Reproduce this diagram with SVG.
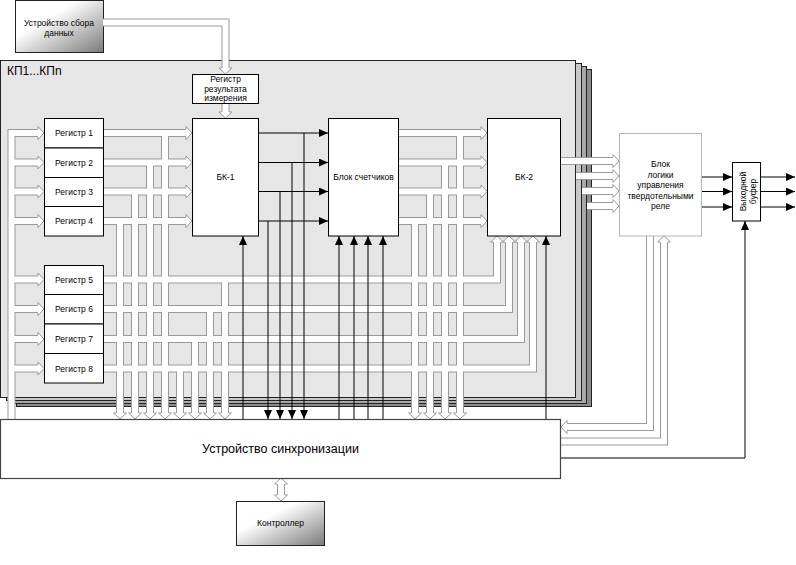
<svg xmlns="http://www.w3.org/2000/svg" xmlns:xlink="http://www.w3.org/1999/xlink" width="796" height="565" viewBox="0 0 796 565">
<style>
text { font-family: "Liberation Sans", Arial, sans-serif; fill: #000; }
.lbl { font-size: 8.5px; text-anchor: middle; }
.box { fill: #fff; stroke: #000; stroke-width: 1; }
.bo { fill: none; stroke: #9a9a9a; stroke-width: 8; }
.bi { fill: none; stroke: #fff; stroke-width: 6; }
.ha { fill: #fff; stroke: #9a9a9a; stroke-width: 1; }
.bl { fill: none; stroke: #000; stroke-width: 1; marker-end: url(#ab); }
.ln { fill: none; stroke: #000; stroke-width: 1; }
.layer { stroke: #222; stroke-width: 1; }
</style>
<defs>
<linearGradient id="gr" x1="0" y1="0" x2="1" y2="1">
<stop offset="0.35" stop-color="#ffffff"/>
<stop offset="1" stop-color="#7a7a7a"/>
</linearGradient>
<marker id="ab" markerWidth="10" markerHeight="8" refX="9" refY="4" orient="auto" markerUnits="userSpaceOnUse">
<path d="M0,0 L9,4 L0,8 z" fill="#000"/>
</marker>
<path id="ha" d="M-6,-4 L-6,-6.5 L0,0 L-6,6.5 L-6,4"/>
<path id="bus" d="M103,22.5 H225.5 V69 M225.5,103 V113
M11.5,419 V133 H39 M11.5,162.5 H39 M11.5,191.5 H39 M11.5,221 H39 M11.5,279.5 H39 M11.5,309 H39 M11.5,339 H39 M11.5,368.5 H39
M103,133 H187 M165,133 V414
M103,162.5 H187 M150,162.5 V414
M103,191.5 H187 M135,191.5 V414
M103,221 H187 M120,221 V414
M103,279.5 H497 V241 M225,279.5 V414
M103,309 H509 V241 M210,309 V414
M103,339 H521 V241 M195,339 V414
M103,368.5 H533 V241 M180,368.5 V414
M398,133 H482 M460,133 V414
M398,162.5 H482 M445,162.5 V414
M398,191.5 H482 M430,191.5 V414
M398,221 H482 M415,221 V414
M560,161 H614 M576,176 H614 M582,191 H614 M587,206 H614
M650,236 V427 H566
M561,441.5 H664 V241
M281,483 V496"/>
</defs>

<g id="kp-stack">
<rect class="layer" x="16.5" y="69.5" width="575" height="337" fill="#8c8c8c"/>
<rect class="layer" x="11.5" y="66.5" width="575" height="337" fill="#a8a8a8"/>
<rect class="layer" x="6.5" y="63.5" width="575" height="337" fill="#c8c8c8"/>
<rect class="layer" x="0.5" y="60.5" width="575" height="337" fill="#e6e6e6"/>
<text x="7" y="75" font-size="12">КП1...КПn</text>
</g>

<g id="data-device">
<rect x="15.5" y="0.5" width="88" height="52" fill="url(#gr)" stroke="#222"/>
<text class="lbl" x="59" y="26">Устройство сбора</text>
<text class="lbl" x="59" y="35.5">данных</text>
</g>

<g id="connectors">
<use xlink:href="#bus" class="bo"/>
<use xlink:href="#bus" class="bi"/>
<g class="ha">
<use xlink:href="#ha" transform="translate(225.5,74) rotate(90)"/>
<use xlink:href="#ha" transform="translate(225.5,118) rotate(90)"/>
<use xlink:href="#ha" transform="translate(44,133)"/>
<use xlink:href="#ha" transform="translate(44,162.5)"/>
<use xlink:href="#ha" transform="translate(44,191.5)"/>
<use xlink:href="#ha" transform="translate(44,221)"/>
<use xlink:href="#ha" transform="translate(44,279.5)"/>
<use xlink:href="#ha" transform="translate(44,309)"/>
<use xlink:href="#ha" transform="translate(44,339)"/>
<use xlink:href="#ha" transform="translate(44,368.5)"/>
<use xlink:href="#ha" transform="translate(192,133)"/>
<use xlink:href="#ha" transform="translate(192,162.5)"/>
<use xlink:href="#ha" transform="translate(192,191.5)"/>
<use xlink:href="#ha" transform="translate(192,221)"/>
<use xlink:href="#ha" transform="translate(487,133)"/>
<use xlink:href="#ha" transform="translate(487,162.5)"/>
<use xlink:href="#ha" transform="translate(487,191.5)"/>
<use xlink:href="#ha" transform="translate(487,221)"/>
<use xlink:href="#ha" transform="translate(120,419) rotate(90)"/>
<use xlink:href="#ha" transform="translate(135,419) rotate(90)"/>
<use xlink:href="#ha" transform="translate(150,419) rotate(90)"/>
<use xlink:href="#ha" transform="translate(165,419) rotate(90)"/>
<use xlink:href="#ha" transform="translate(180,419) rotate(90)"/>
<use xlink:href="#ha" transform="translate(195,419) rotate(90)"/>
<use xlink:href="#ha" transform="translate(210,419) rotate(90)"/>
<use xlink:href="#ha" transform="translate(225,419) rotate(90)"/>
<use xlink:href="#ha" transform="translate(415,419) rotate(90)"/>
<use xlink:href="#ha" transform="translate(430,419) rotate(90)"/>
<use xlink:href="#ha" transform="translate(445,419) rotate(90)"/>
<use xlink:href="#ha" transform="translate(460,419) rotate(90)"/>
<use xlink:href="#ha" transform="translate(497,236) rotate(-90)"/>
<use xlink:href="#ha" transform="translate(509,236) rotate(-90)"/>
<use xlink:href="#ha" transform="translate(521,236) rotate(-90)"/>
<use xlink:href="#ha" transform="translate(533,236) rotate(-90)"/>
<use xlink:href="#ha" transform="translate(619,161)"/>
<use xlink:href="#ha" transform="translate(619,176)"/>
<use xlink:href="#ha" transform="translate(619,191)"/>
<use xlink:href="#ha" transform="translate(619,206)"/>
<use xlink:href="#ha" transform="translate(561,427) rotate(180)"/>
<use xlink:href="#ha" transform="translate(664,236) rotate(-90)"/>
<use xlink:href="#ha" transform="translate(281,478) rotate(-90)"/>
<use xlink:href="#ha" transform="translate(281,501) rotate(90)"/>
</g>
<path class="bl" d="M258,133 H328"/>
<path class="bl" d="M258,162.5 H328"/>
<path class="bl" d="M258,191.5 H328"/>
<path class="bl" d="M258,221 H328"/>
<path class="bl" d="M304,133 V419"/>
<path class="bl" d="M292,162.5 V419"/>
<path class="bl" d="M280,191.5 V419"/>
<path class="bl" d="M268,221 V419"/>
<path class="bl" d="M243,419 V236"/>
<path class="bl" d="M339,419 V236"/>
<path class="bl" d="M354,419 V236"/>
<path class="bl" d="M368,419 V236"/>
<path class="bl" d="M383,419 V236"/>
<path class="bl" d="M546,419 V236"/>
<path class="bl" d="M702,177 H732"/>
<path class="bl" d="M702,191.5 H732"/>
<path class="bl" d="M702,207 H732"/>
<path class="bl" d="M760,177 H795"/>
<path class="bl" d="M760,191.5 H795"/>
<path class="bl" d="M760,207 H795"/>
<path class="bl" d="M561,458 H745 V221"/>
</g>

<g id="reg-result">
<rect class="box" x="192.5" y="74.5" width="66" height="29"/>
<text class="lbl" x="225.5" y="82">Регистр</text>
<text class="lbl" x="225.5" y="91.5">результата</text>
<text class="lbl" x="225.5" y="101">измерения</text>
</g>

<g id="reg1-4">
<rect class="box" x="44.5" y="118.5" width="59" height="29.5"/>
<rect class="box" x="44.5" y="148" width="59" height="29.5"/>
<rect class="box" x="44.5" y="177.5" width="59" height="29"/>
<rect class="box" x="44.5" y="206.5" width="59" height="29.5"/>
<text class="lbl" x="74" y="136">Регистр 1</text>
<text class="lbl" x="74" y="165.5">Регистр 2</text>
<text class="lbl" x="74" y="194.5">Регистр 3</text>
<text class="lbl" x="74" y="224">Регистр 4</text>
</g>

<g id="reg5-8">
<rect class="box" x="44.5" y="265.5" width="59" height="29"/>
<rect class="box" x="44.5" y="294.5" width="59" height="29.5"/>
<rect class="box" x="44.5" y="324" width="59" height="29.5"/>
<rect class="box" x="44.5" y="353.5" width="59" height="29.5"/>
<text class="lbl" x="74" y="282.5">Регистр 5</text>
<text class="lbl" x="74" y="312">Регистр 6</text>
<text class="lbl" x="74" y="342">Регистр 7</text>
<text class="lbl" x="74" y="371.5">Регистр 8</text>
</g>

<g id="bk1">
<rect class="box" x="192.5" y="118.5" width="66" height="117.5"/>
<text class="lbl" x="225.5" y="180">БК-1</text>
</g>

<g id="counters">
<rect class="box" x="328.5" y="118.5" width="70" height="117.5"/>
<text class="lbl" x="363.5" y="180">Блок счетчиков</text>
</g>

<g id="bk2">
<rect class="box" x="487.5" y="118.5" width="73" height="117.5"/>
<text class="lbl" x="524" y="180">БК-2</text>
</g>

<g id="logic">
<rect x="619.5" y="133.5" width="82" height="102.5" fill="#fff" stroke="#b5b5b5"/>
<text class="lbl" x="660.5" y="167">Блок</text>
<text class="lbl" x="660.5" y="177.5">логики</text>
<text class="lbl" x="660.5" y="188">управления</text>
<text class="lbl" x="660.5" y="198.5">твердотельными</text>
<text class="lbl" x="660.5" y="209">реле</text>
</g>

<g id="buffer">
<rect class="box" x="732.5" y="162.5" width="28" height="58.5"/>
<text class="lbl" transform="translate(746.5,191.5) rotate(-90)"><tspan x="0" y="-1">Выходной</tspan><tspan x="0" y="9">буфер</tspan></text>
</g>

<g id="sync">
<rect x="0.5" y="419.5" width="560" height="59" fill="#fff" stroke="#444" stroke-width="1.2"/>
<text x="280.5" y="453" font-size="12.5" text-anchor="middle">Устройство синхронизации</text>
</g>

<g id="controller">
<rect x="236.5" y="501.5" width="88" height="44" fill="url(#gr)" stroke="#222"/>
<text class="lbl" x="280.5" y="526">Контроллер</text>
</g>
</svg>
